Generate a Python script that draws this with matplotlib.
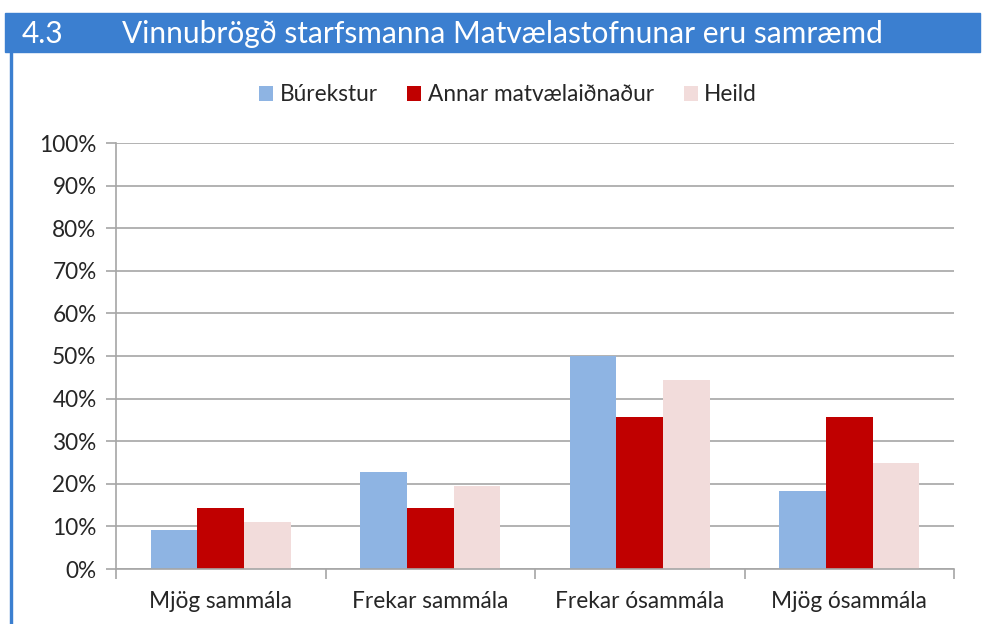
import matplotlib.pyplot as plt
from matplotlib.patches import Rectangle
from matplotlib.ticker import PercentFormatter
import numpy as np

categories = ["Mjög sammála", "Frekar sammála", "Frekar ósammála", "Mjög ósammála"]
series_names = ["Búrekstur", "Annar matvælaiðnaður", "Heild"]
burekstur = [9.1, 22.7, 50.0, 18.2]
annar = [14.3, 14.3, 35.7, 35.7]
heild = [11.1, 19.4, 44.4, 25.0]
colors = ["#8EB4E3", "#C00000", "#F2DCDB"]
header_no = "4.3"
header_title = "Vinnubrögð starfsmanna Matvælastofnunar eru samræmd"

plt.rcParams['font.family'] = ['Lato', 'DejaVu Sans']
W, H = 984, 624
fs = 16.3
fig = plt.figure(figsize=(W / 100, H / 100), dpi=100)

# header bar and left border
fig.patches.append(Rectangle((5 / W, 1 - 52 / H), 975 / W, 39 / H,
                             transform=fig.transFigure, color="#3B7FD0"))
fig.patches.append(Rectangle((10 / W, 0), 2 / W, 1 - 52 / H,
                             transform=fig.transFigure, color="#3B7FD0"))
fig.text(22 / W, 1 - 34 / H, header_no, color="white", fontsize=21.5, va="center")
fig.text(122 / W, 1 - 34 / H, header_title, color="white", fontsize=21.5, va="center")

ax = fig.add_axes([116 / W, 1 - 569 / H, 838 / W, 426 / H])
x = np.arange(len(categories))
bw = 1 / 4.5
for k, (vals, name, c) in enumerate(zip([burekstur, annar, heild], series_names, colors)):
    ax.bar(x + (k - 1) * bw, vals, bw, color=c, label=name, zorder=2)

ax.set_xlim(-0.5, len(categories) - 0.5)
ax.set_ylim(0, 100)
ax.set_yticks(np.arange(0, 101, 10))
ax.yaxis.set_major_formatter(PercentFormatter(decimals=0))
ax.grid(axis="y", color="#A6A6A6", linewidth=1.2, zorder=0)
ax.set_xticks(x)
ax.set_xticklabels(categories)
ax.set_xticks(np.arange(-0.5, len(categories)), minor=True)
ax.tick_params(axis="x", which="major", length=0, pad=16, labelsize=fs, labelcolor="#262626")
ax.tick_params(axis="x", which="minor", length=7, color="#A6A6A6", width=1.2)
ax.tick_params(axis="y", length=7, color="#A6A6A6", width=1.2, pad=7,
               labelsize=fs, labelcolor="#262626")
for s in ["top", "right"]:
    ax.spines[s].set_visible(False)
for s in ["left", "bottom"]:
    ax.spines[s].set_color("#A6A6A6")
    ax.spines[s].set_linewidth(1.2)

# legend centred a bit left of the axes centre, like the original
lx = (508 - 116) / 838
ly = (569 - 95) / 426
ax.legend(loc="center", bbox_to_anchor=(lx, ly),
          ncol=3, frameon=False, fontsize=fs, handlelength=0.62, handleheight=0.62,
          handletextpad=0.3, columnspacing=1.3, labelcolor="#262626",
          borderpad=0, borderaxespad=0)

fig.savefig("out.png", dpi=100)
